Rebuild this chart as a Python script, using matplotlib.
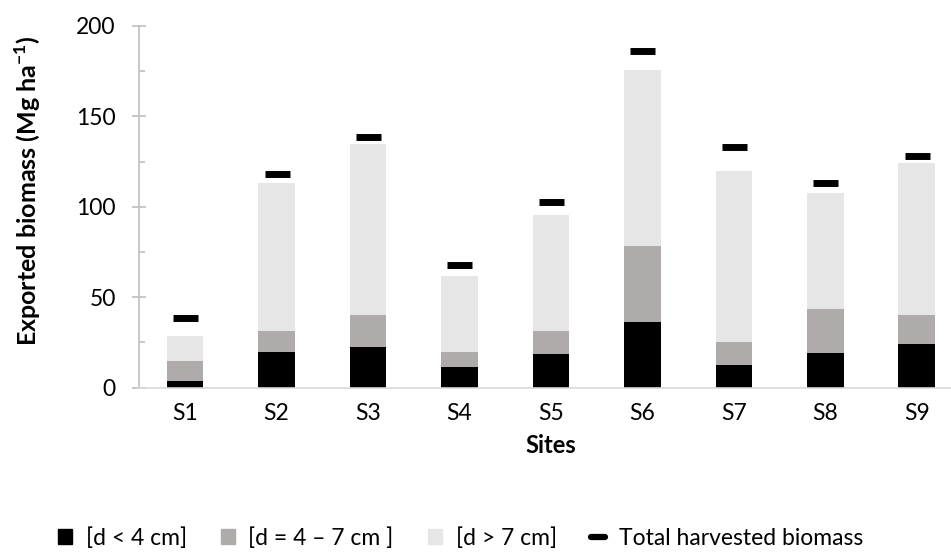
import matplotlib
matplotlib.use("Agg")
import matplotlib.pyplot as plt
from matplotlib.patches import Patch
from matplotlib.lines import Line2D
from matplotlib.ticker import MultipleLocator

plt.rcParams['font.family'] = ['Lato', 'DejaVu Sans']
plt.rcParams['mathtext.fontset'] = 'custom'
plt.rcParams['mathtext.rm'] = 'Lato'
plt.rcParams['mathtext.bf'] = 'Lato:bold'

sites = ['S1', 'S2', 'S3', 'S4', 'S5', 'S6', 'S7', 'S8', 'S9']
d_small = [3.9, 19.9, 22.7, 11.3, 18.6, 36.3, 12.6, 19.4, 24.3]
d_mid = [11.0, 11.6, 17.7, 8.3, 12.8, 42.1, 12.5, 24.1, 15.9]
d_large = [13.9, 81.5, 94.5, 42.2, 64.1, 97.3, 94.7, 64.2, 84.2]
total = [38.4, 118.3, 138.8, 67.8, 102.5, 186.2, 133.1, 113.4, 128.3]

c_small = '#000000'
c_mid = '#AFABAB'
c_large = '#E6E6E6'

FS = 16.5

fig = plt.figure(figsize=(9.51, 5.52), dpi=100)
ax = fig.add_axes([139.3 / 951, 1 - 387.7 / 552, 823.2 / 951, 361.7 / 552])

x = list(range(len(sites)))
w = 0.40
ax.bar(x, d_small, w, color=c_small)
ax.bar(x, d_mid, w, bottom=d_small, color=c_mid)
bottom3 = [a + b for a, b in zip(d_small, d_mid)]
ax.bar(x, d_large, w, bottom=bottom3, color=c_large)
ax.plot(x, total, linestyle='none', marker='_', markersize=18, markeredgewidth=5,
        color='black')

ax.set_ylim(0, 200)
ax.set_xlim(-0.5, 8.5)
ax.set_xticks(x)
ax.set_xticklabels(sites, fontsize=FS)
ax.yaxis.set_major_locator(MultipleLocator(50))
ax.yaxis.set_minor_locator(MultipleLocator(25))
ax.tick_params(axis='y', which='major', direction='inout', length=10, width=1.2,
               color='#BFBFBF', labelsize=FS, pad=12)
ax.tick_params(axis='y', which='minor', direction='in', length=4.5, width=1.2,
               color='#BFBFBF')
ax.tick_params(axis='x', length=0, pad=11)
for s in ['top', 'right']:
    ax.spines[s].set_visible(False)
ax.spines['left'].set_color('#BFBFBF')
ax.spines['left'].set_linewidth(1.2)
ax.spines['bottom'].set_color('#D9D9D9')
ax.spines['bottom'].set_linewidth(1.2)

ax.set_xlabel('Sites', fontsize=17, fontweight='bold', labelpad=7)
fig.text(28 / 951, 1 - 191 / 552, 'Exported biomass (Mg ha$^{\\mathbf{-1}}$)',
         rotation=90, ha='center', va='center', fontsize=18, fontweight='bold')

handles = [Patch(color=c_small), Patch(color=c_mid), Patch(color=c_large),
           Line2D([], [], color='black', lw=4.5, solid_capstyle='round')]
labels = ['[d < 4 cm]', '[d = 4 – 7 cm ]', '[d > 7 cm]', 'Total harvested biomass']
leg = fig.legend(handles, labels, loc='center left', bbox_to_anchor=(58 / 951, 1 - 538 / 552), ncol=4,
                 frameon=False, fontsize=FS, handlelength=0.6, handleheight=0.6,
                 handletextpad=0.6, columnspacing=1.5, borderaxespad=0, borderpad=0)

fig.savefig('out.png', dpi=100)
